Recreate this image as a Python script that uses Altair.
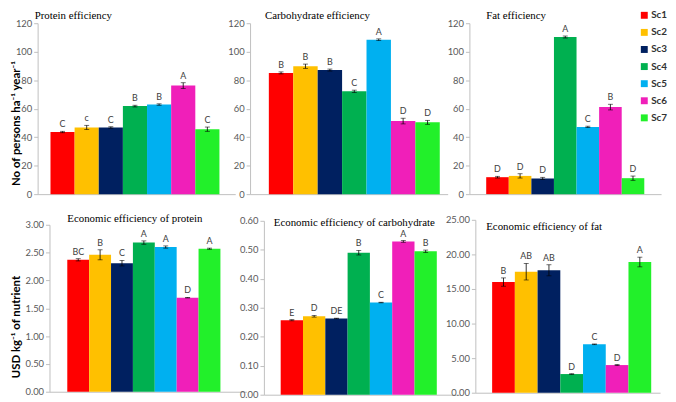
import altair as alt
import pandas as pd

scenarios = ["Sc1", "Sc2", "Sc3", "Sc4", "Sc5", "Sc6", "Sc7"]
colors = ["#FF0000", "#FFC000", "#002060", "#00B050", "#00B0F0", "#F01FB9", "#22F02A"]

protein_val = [43.6, 46.8, 46.8, 61.8, 62.9, 76.2, 45.6]
protein_err = [0.5, 1.5, 0.5, 0.6, 0.5, 2.0, 1.5]
protein_let = ["C", "c", "C", "B", "B", "A", "C"]

carb_val = [85.1, 89.8, 87.1, 72.2, 108.4, 51.3, 50.4]
carb_err = [0.7, 1.5, 0.7, 0.8, 0.6, 2.0, 1.4]
carb_let = ["B", "B", "B", "C", "A", "D", "D"]

fat_val = [11.9, 12.8, 11.0, 110.3, 47.2, 61.1, 11.2]
fat_err = [0.6, 1.5, 0.8, 0.7, 0.5, 2.0, 1.5]
fat_let = ["D", "D", "D", "A", "C", "B", "D"]

eprot_val = [2.37, 2.46, 2.31, 2.68, 2.60, 1.69, 2.57]
eprot_err = [0.02, 0.09, 0.05, 0.03, 0.02, 0.005, 0.01]
eprot_let = ["BC", "B", "C", "A", "A", "D", "A"]

ecarb_val = [0.257, 0.271, 0.263, 0.490, 0.318, 0.529, 0.495]
ecarb_err = [0.002, 0.003, 0.001, 0.008, 0.001, 0.003, 0.004]
ecarb_let = ["E", "D", "DE", "B", "C", "A", "B"]

efat_val = [16.0, 17.5, 17.7, 2.7, 7.0, 4.0, 18.9]
efat_err = [0.6, 1.2, 0.8, 0.05, 0.05, 0.08, 0.7]
efat_let = ["B", "AB", "AB", "D", "C", "D", "A"]

top_ticks = [0, 20, 40, 60, 80, 100, 120]
eprot_ticks = [0, 0.5, 1.0, 1.5, 2.0, 2.5, 3.0]
ecarb_ticks = [0, 0.1, 0.2, 0.3, 0.4, 0.5, 0.6]
efat_ticks = [0, 5, 10, 15, 20, 25]

titles = ["Protein efficiency", "Carbohydrate efficiency", "Fat efficiency",
          "Economic efficiency of protein", "Economic efficiency of carbohydrate",
          "Economic efficiency of fat"]
ytitle_top = "No of persons ha\u207b\u00b9 year\u207b\u00b9"
ytitle_bot = "USD kg\u207b\u00b9 of nutrient"

# ---- layout (page pixel geometry; page margin is 8px) ----
ORIGIN_X, ORIGIN_Y = 36, 21
COLW = [217, 222, 194]
T1, H1 = 21, 173
T2, H2 = 220, 177
ROW_SPACING = T2 - (T1 + H1)
SVG_W, SVG_H = 668, 394

AXIS_GRAY = "#BFBFBF"
LABEL_GRAY = "#595959"

legend = alt.Legend(orient="none", legendX=611, legendY=-13, title=None,
                    symbolType="square", symbolSize=49, symbolStrokeWidth=0,
                    labelFont="Lato", labelFontSize=10, labelFontWeight="bold",
                    labelColor="#333333", rowPadding=7.3, padding=0, labelOffset=2,
                    offset=0, direction="vertical")


def panel(vals, errs, lets, title, cell_x, cell_w, top, h, AL, AR, BL, BR, y0, y1,
          ymax, ticks, fmt, ytitle, title_dx, title_dy, ytitle_y):
    df = pd.DataFrame({"Sc": scenarios, "value": vals, "err": errs, "letter": lets})
    df["lo"] = df["value"] - df["err"]
    df["hi"] = df["value"] + df["err"]

    span = BR - BL
    step = span / 7.0
    outer = (AR - AL) - span
    if outer > 2 * step:
        outer = 2 * step
        AR = AL + span + outer
    pad_outer = outer / (2 * step)
    align = min(1.0, max(0.0, (BL - AL) / outer))

    xscale = alt.Scale(domain=scenarios, range=[AL - cell_x, AR - cell_x],
                       paddingInner=0, paddingOuter=pad_outer, align=align)
    xaxis = alt.Axis(domain=True, labels=False, ticks=False, title=None, grid=False,
                     domainColor=AXIS_GRAY, domainWidth=1,
                     offset=-((top + h) - y0))
    yscale = alt.Scale(domain=[0, ymax], range=[y0 - top, y1 - top], nice=False, zero=True)
    yaxis_kw = dict(domain=True, ticks=True, labels=True, values=ticks, format=fmt,
                    grid=False, domainColor=AXIS_GRAY,
                    tickColor=AXIS_GRAY, tickSize=4, labelFont="Lato", labelFontSize=9.5,
                    labelColor=LABEL_GRAY, labelPadding=2, offset=-(AL - cell_x))
    if ytitle:
        yaxis = alt.Axis(title=ytitle, titleFont="Lato", titleFontSize=11.5,
                         titleFontWeight="bold", titleColor="#000000", titleAngle=270,
                         titleAlign="center", titleBaseline="bottom",
                         titleX=21.5 - AL, titleY=ytitle_y - top, **yaxis_kw)
    else:
        yaxis = alt.Axis(title=None, **yaxis_kw)

    x = alt.X("Sc:N", scale=xscale, axis=xaxis)
    base = alt.Chart(df)
    bars = base.mark_bar(size=step).encode(
        x=x,
        y=alt.Y("value:Q", scale=yscale, axis=yaxis),
        color=alt.Color("Sc:N", scale=alt.Scale(domain=scenarios, range=colors), legend=legend),
    )
    rule = base.mark_rule(color="#000000", strokeWidth=0.8).encode(
        x=x, y=alt.Y("lo:Q", scale=yscale, axis=yaxis), y2="hi:Q")
    cap_lo = base.mark_tick(color="#000000", size=5, thickness=0.8).encode(
        x=x, y=alt.Y("lo:Q", scale=yscale, axis=yaxis))
    cap_hi = base.mark_tick(color="#000000", size=5, thickness=0.8).encode(
        x=x, y=alt.Y("hi:Q", scale=yscale, axis=yaxis))
    text = base.mark_text(baseline="bottom", dy=-2, font="Lato", fontSize=9,
                          color="#404040").encode(
        x=x, y=alt.Y("hi:Q", scale=yscale, axis=yaxis), text="letter:N")
    return alt.layer(bars, rule, cap_lo, cap_hi, text).properties(
        width=cell_w, height=h,
        title=alt.TitleParams(text=title, anchor="start", frame="group", orient="top",
                              offset=0, dx=title_dx, dy=title_dy, baseline="bottom",
                              font="Liberation Serif", fontSize=11, fontWeight="normal",
                              color="#000000"),
    )


c1x = ORIGIN_X
c2x = ORIGIN_X + COLW[0]
c3x = c2x + COLW[1]

p1 = panel(protein_val, protein_err, protein_let, titles[0], c1x, COLW[0], T1, H1,
           38, 238, 51, 222, 194, 21, 120, top_ticks, "d", ytitle_top, 35 - c1x, 13.5, 122)
p2 = panel(carb_val, carb_err, carb_let, titles[1], c2x, COLW[1], T1, H1,
           253, 453, 272, 445, 194, 21, 120, top_ticks, "d", None, 268 - c2x, 13.5, 0)
p3 = panel(fat_val, fat_err, fat_let, titles[2], c3x, COLW[2], T1, H1,
           475, 669, 492, 652, 194, 21, 120, top_ticks, "d", None, 492 - c3x, 13.5, 0)
p4 = panel(eprot_val, eprot_err, eprot_let, titles[3], c1x, COLW[0], T2, H2,
           50, 252, 68, 223, 394, 225, 3.0, eprot_ticks, ".2f", ytitle_bot, 68 - c1x, 15, 328)
p5 = panel(ecarb_val, ecarb_err, ecarb_let, titles[4], c2x, COLW[1], T2, H2,
           267, 466, 284, 442, 397, 221, 0.6, ecarb_ticks, ".2f", None, 277 - c2x, 23, 0)
p6 = panel(efat_val, efat_err, efat_let, titles[5], c3x, COLW[2], T2, H2,
           481, 668, 498, 659, 395, 220, 25.0, efat_ticks, ".2f", None, 492 - c3x, 28, 0)

pad_left = ORIGIN_X - 8
pad_top = ORIGIN_Y - 8
chart = alt.concat(p1, p2, p3, p4, p5, p6, columns=3, spacing={"row": ROW_SPACING, "column": 0},
                   bounds="flush", align="each").resolve_scale(
    x="independent", y="independent", color="shared"
).properties(
    padding={"left": pad_left, "top": pad_top, "right": SVG_W - pad_left,
             "bottom": SVG_H - pad_top},
    autosize=alt.AutoSizeParams(type="none"),
    background="white",
).configure_view(stroke=None)

chart.save("out.html", embed_options={"renderer": "svg", "actions": False})
